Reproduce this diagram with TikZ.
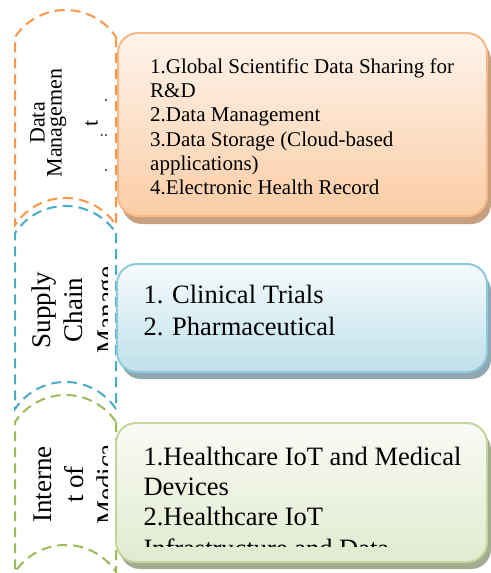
\documentclass[tikz,border=0pt]{standalone}
\usepackage{fontspec}
\setmainfont{Liberation Serif}
\definecolor{orgD}{HTML}{F79646}
\definecolor{bluD}{HTML}{4BACC6}
\definecolor{grnD}{HTML}{9BBB59}
\definecolor{orgB}{HTML}{F8B98A}
\definecolor{bluB}{HTML}{8DCADB}
\definecolor{grnB}{HTML}{C3D69B}
\definecolor{orgT}{HTML}{FEF4EC}
\definecolor{orgL}{HTML}{FBCDA6}
\definecolor{bluT}{HTML}{F6FBFD}
\definecolor{bluL}{HTML}{BFE0EA}
\definecolor{grnT}{HTML}{F9FBF5}
\definecolor{grnL}{HTML}{E1EACF}
\definecolor{orgS}{HTML}{C9A07F}
\definecolor{bluS}{HTML}{8FA8B2}
\definecolor{grnS}{HTML}{A3AC90}
\tikzset{
  dashline/.style={line width=2pt, dash pattern=on 10pt off 6pt},
  boxline/.style={line width=2pt, rounded corners=20pt},
  shadowbox/.style={rounded corners=20pt},
  sidetext/.style={rotate=90, anchor=base, inner sep=0pt, text=black},
  boxtext/.style={anchor=base west, inner sep=0pt, text=black},
}
% #1 colour, #2 top apex, #3 bottom apex
\newcommand\leftchev[3]{%
  \draw[dashline,#1] (116,{-#2-27}) -- (116,{-#3-27})
    arc[start angle=33.7, end angle=146.3, radius=60.7pt]
    -- (15,{-#2-27})
    arc[start angle=146.3, end angle=33.7, radius=60.7pt] -- cycle;}
\begin{document}
\begin{tikzpicture}[x=1pt,y=1pt]
\useasboundingbox (0,0) rectangle (490,-573);

% left dashed shapes
\leftchev{orgD}{10}{198}
\leftchev{bluD}{206}{382}
\leftchev{grnD}{395}{545}

% left rotated labels (clipped at the right)
\begin{scope}
  \clip (15,0) rectangle (107.5,-573);
  \node[sidetext, font=\fontsize{22}{24}\selectfont] (dm1) at (44.6,-123) {Data};
  \node[sidetext, font=\fontsize{22}{24}\selectfont] (dm2) at (61.7,-123) {Managemen};
  \node[sidetext, font=\fontsize{22}{24}\selectfont] (dm3) at (97.5,-123) {t};
  \fill[black!80] (106,-100) circle (1.1pt) (101.7,-135) circle (1.1pt)
       (106,-135) circle (1.1pt) (106,-170) circle (1.1pt);
  \node[sidetext, font=\fontsize{27}{30}\selectfont] (sc1) at (50,-310) {Supply};
  \node[sidetext, font=\fontsize{27}{30}\selectfont] (sc2) at (82,-310) {Chain};
  \node[sidetext, font=\fontsize{27}{30}\selectfont] (sc3) at (115,-310) {Manage};
  \node[sidetext, font=\fontsize{27}{30}\selectfont] (im1) at (51,-484.5) {Interne};
  \node[sidetext, font=\fontsize{27}{30}\selectfont] (im2) at (83,-484.5) {t of};
  \node[sidetext, font=\fontsize{27}{30}\selectfont] (im3) at (115,-484.5) {Medica};
\end{scope}

% right boxes: shadows
\fill[shadowbox, orgS] (122,-40) rectangle (491,-224);
\fill[shadowbox, bluS] (121,-271) rectangle (491,-379);
\fill[shadowbox, grnS] (120,-430) rectangle (491,-569);

% right boxes
\draw[boxline, orgB, top color=orgT, bottom color=orgL] (118,-33) rectangle (487,-216);
\draw[boxline, bluB, top color=bluT, bottom color=bluL] (117,-264) rectangle (487,-372);
\draw[boxline, grnB, top color=grnT, bottom color=grnL] (116,-423) rectangle (487,-562);

% orange box text
\begin{scope}[font=\fontsize{21}{24}\selectfont]
  \foreach \t [count=\i] in {{1.Global Scientific Data Sharing for},{R\&D},{2.Data Management},{3.Data Storage (Cloud-based},{applications)},{4.Electronic Health Record}}
    \node[boxtext] (ot\i) at (150,{-73.3-24.3*(\i-1)}) {\t};
\end{scope}

% blue box text
\begin{scope}[font=\fontsize{26.5}{30}\selectfont]
  \node[boxtext] (bt1) at (143.3,-303.3) {1. Clinical Trials};
  \node[boxtext] (bt2) at (143.3,-335) {2. Pharmaceutical};
\end{scope}

% green box text (clipped)
\begin{scope}[font=\fontsize{26.5}{30}\selectfont]
  \clip (116,-423) rectangle (487,-546);
  \node[boxtext] (gt1) at (143.3,-465) {1.Healthcare IoT and Medical};
  \node[boxtext] (gt2) at (143.3,-495) {Devices};
  \node[boxtext] (gt3) at (143.3,-525) {2.Healthcare IoT};
  \node[boxtext] (gt4) at (143.3,-557.5) {Infrastructure and Data};
\end{scope}
\end{tikzpicture}
\end{document}
